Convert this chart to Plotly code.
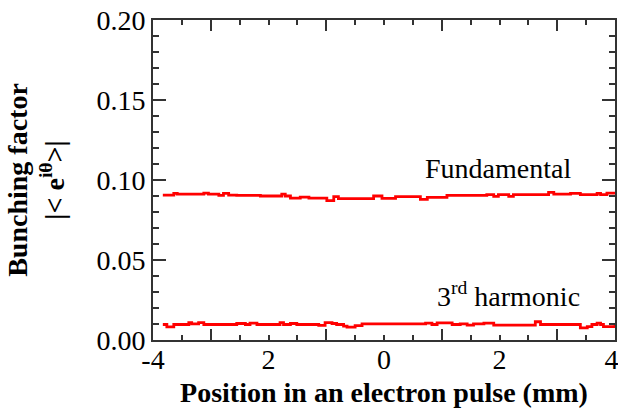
import plotly.graph_objects as go

# Fundamental bunching factor (step-like trace)
fund_x = [-3.83, -3.64, -3.58, -3.12, -3.04, -2.86, -2.78, -2.69, -2.55, -2.14,
          -1.77, -1.71, -1.62, -1.45, -1.30, -0.99, -0.87, -0.79, -0.18, -0.035,
          0.20, 0.63, 0.75, 1.09, 1.78, 1.90, 1.98, 2.16, 2.24, 2.85,
          2.94, 3.23, 3.40, 3.69, 3.75, 3.86, 4.00]
fund_y = [0.0906, 0.0916, 0.0912, 0.0918, 0.0912, 0.0904, 0.0916, 0.0906, 0.0904, 0.0900,
          0.0912, 0.0900, 0.0887, 0.0893, 0.0887, 0.0871, 0.0896, 0.0883, 0.0900, 0.0885,
          0.0896, 0.0879, 0.0892, 0.0904, 0.0908, 0.0898, 0.0908, 0.0898, 0.0908, 0.0923,
          0.0912, 0.0916, 0.0908, 0.0916, 0.0908, 0.0918, 0.0918]

# 3rd harmonic bunching factor
harm_x = [-3.83, -3.76, -3.64, -3.38, -3.33, -3.21, -3.12, -2.55, -2.40, -2.32,
          -2.20, -1.80, -1.74, -1.62, -1.51, -1.13, -1.02, -0.90, -0.82, -0.70,
          -0.64, -0.50, -0.38, 0.72, 0.83, 0.92, 1.18, 1.32, 1.44, 1.55,
          1.73, 1.90, 2.62, 2.71, 3.40, 3.52, 3.60, 3.69, 3.75, 3.80, 4.00]
harm_y = [0.0097, 0.0082, 0.0097, 0.0109, 0.0101, 0.0109, 0.0097, 0.0103, 0.0097, 0.0105,
          0.0097, 0.0109, 0.0097, 0.0103, 0.0097, 0.0091, 0.0109, 0.0103, 0.0097, 0.0087,
          0.0080, 0.0090, 0.0101, 0.0105, 0.0097, 0.0107, 0.0097, 0.0101, 0.0093, 0.0101,
          0.0105, 0.0093, 0.0114, 0.0097, 0.0076, 0.0084, 0.0097, 0.0105, 0.0097, 0.0084, 0.0101]

# long x tick marks sit at odd positions, labels at even positions
x_major_tickvals = [-3, -1, 1, 3]
x_label_vals = [-4, -2, 0, 2, 4]
x_label_text = ["-4", "2", "0", "2", "4\u00a0"]
y_tickvals = [0.00, 0.05, 0.10, 0.15, 0.20]
y_ticktext = ["0.00", "0.05", "0.10", "0.15", "0.20"]

FONT = "Liberation Serif, Times New Roman, Times, serif"
AX = "#333333"
FS = 28

fig = go.Figure()
for xs, ys in [(fund_x, fund_y), (harm_x, harm_y)]:
    fig.add_trace(go.Scatter(x=xs, y=ys, mode="lines", line=dict(color="#ff0000", width=2.8, shape="hv"),
                             showlegend=False, hoverinfo="skip"))
# empty trace so that the label axis is drawn
fig.add_trace(go.Scatter(x=[], y=[], xaxis="x2", yaxis="y", showlegend=False, hoverinfo="skip"))

fig.update_layout(
    width=618, height=415,
    margin=dict(l=153, r=3, t=20, b=75),
    paper_bgcolor="white", plot_bgcolor="white",
    font=dict(family=FONT, size=FS, color="black"),
    xaxis=dict(range=[-4, 4], tickvals=x_major_tickvals, showticklabels=False,
               ticks="inside", ticklen=11, tickwidth=2, tickcolor=AX,
               showline=True, linecolor=AX, linewidth=2, mirror="ticks",
               showgrid=False, zeroline=False, automargin=False,
               minor=dict(tick0=0, dtick=0.5, ticks="inside", ticklen=5, tickwidth=2, tickcolor=AX, showgrid=False)),
    xaxis2=dict(range=[-4, 4], overlaying="x", anchor="y", side="bottom",
                tickvals=x_label_vals, ticktext=x_label_text, ticks="",
                showline=False, showgrid=False, zeroline=False, automargin=False,
                ticklabeloverflow="allow",
                tickfont=dict(family=FONT, size=FS),
                title=dict(text="<b>Position in an electron pulse (mm)</b>", font=dict(family=FONT, size=FS), standoff=8)),
    yaxis=dict(range=[0, 0.20], tickvals=y_tickvals, ticktext=y_ticktext,
               ticks="inside", ticklen=13, tickwidth=2, tickcolor=AX,
               showline=True, linecolor=AX, linewidth=2, mirror="ticks",
               showgrid=False, zeroline=False, automargin=False,
               minor=dict(dtick=0.01, ticks="inside", ticklen=6, tickwidth=2, tickcolor=AX, showgrid=False),
               tickfont=dict(family=FONT, size=FS),
               title=dict(text="<b>Bunching factor<br>|&lt; e<sup>iθ</sup>&gt;|</b>", font=dict(family=FONT, size=FS), standoff=24)),
)

fig.add_annotation(x=1.98, y=0.1075, text="Fundamental", showarrow=False,
                   font=dict(family=FONT, size=FS, color="black"), xanchor="center", yanchor="middle")
fig.add_annotation(x=2.15, y=0.0285, text="3<sup>rd</sup> harmonic", showarrow=False,
                   font=dict(family=FONT, size=FS, color="black"), xanchor="center", yanchor="middle")

fig.write_html("out.html", config={"displayModeBar": False},
               post_script="document.body.style.margin='0';document.body.style.overflow='hidden';")
